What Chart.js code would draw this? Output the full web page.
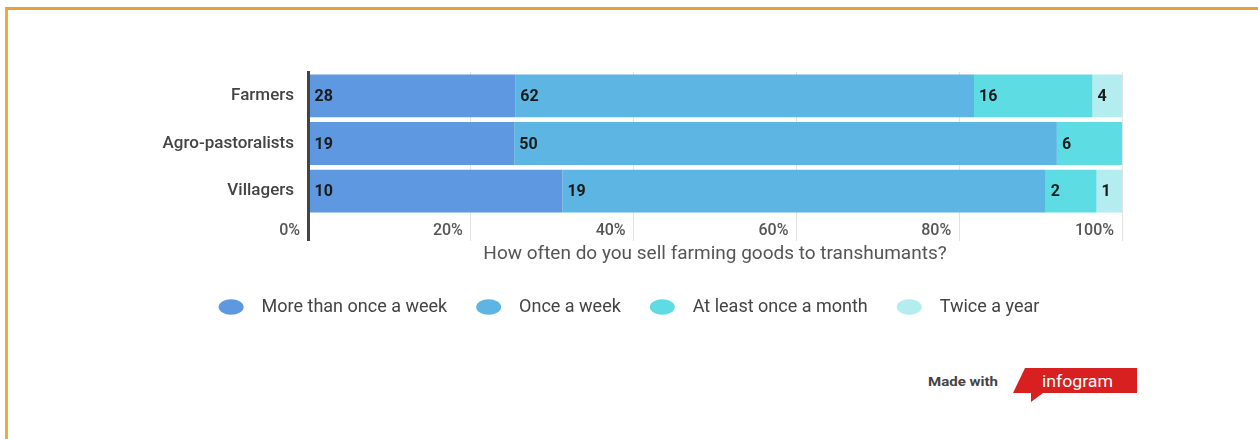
<!DOCTYPE html>
<html>
<head>
<meta charset="utf-8">
<script src="https://cdn.jsdelivr.net/npm/chart.js@4.4.1/dist/chart.umd.min.js"></script>
<style>
  html, body { margin: 0; padding: 0; background: #fff; }
  body { width: 1258px; height: 439px; position: relative; overflow: hidden; font-family: Roboto, sans-serif; }
  .frame { position: absolute; left: 5px; top: 7px; width: 1300px; height: 500px; border-top: 3px solid #E9A23B; border-left: 3px solid #EFAA3C; }
  .chart-box { position: absolute; left: 0; top: 0; width: 1258px; height: 326px; }
  .badge { position: absolute; left: 920px; top: 360px; }
</style>
</head>
<body>
<div class="frame"></div>
<div class="chart-box"><canvas id="chart"></canvas></div>
<svg class="badge" width="225" height="50">
  <text x="8" y="26" font-family="Roboto" font-weight="bold" font-size="13" fill="#444" textLength="70" lengthAdjust="spacingAndGlyphs">Made with</text>
  <polygon points="105,8 217,8 217,33 123,33 111,42 111,33 93,33" fill="#D7201F"/>
  <text x="122" y="27" font-family="Roboto" font-size="16" fill="#fff" textLength="71" lengthAdjust="spacingAndGlyphs">infogram</text>
</svg>
<script>
// answers per group (counts), shown as share of 100%
const categories = ['Farmers', 'Agro-pastoralists', 'Villagers'];
const seriesNames = ['More than once a week', 'Once a week', 'At least once a month', 'Twice a year'];
const moreThanWeekly = [28, 19, 10];
const weekly = [62, 50, 19];
const monthly = [16, 6, 2];
const twiceYearly = [4, 0, 1];
const percentTicks = [0, 20, 40, 60, 80, 100];
const seriesColors = ['#5E98E0', '#5DB5E4', '#5DDDE3', '#B3EDF0'];

const counts = [moreThanWeekly, weekly, monthly, twiceYearly];
const totals = categories.map((c, i) => counts.reduce((s, arr) => s + arr[i], 0));

const datasets = counts.map((arr, k) => ({
    label: seriesNames[k],
    counts: arr,
    data: arr.map((v, i) => v / totals[i] * 100),
    backgroundColor: seriesColors[k],
    borderWidth: 0,
    barPercentage: 0.9,
    categoryPercentage: 1
}));

// count labels at the left of each segment
const valueLabels = {
    id: 'valueLabels',
    afterDatasetsDraw(chart) {
        const ctx = chart.ctx;
        ctx.save();
        ctx.font = 'bold 16px Roboto';
        ctx.fillStyle = '#1a1a1a';
        ctx.textAlign = 'left';
        ctx.textBaseline = 'middle';
        chart.data.datasets.forEach((ds, i) => {
            chart.getDatasetMeta(i).data.forEach((bar, j) => {
                const v = ds.counts[j];
                if (!v) return;
                ctx.fillText(String(v), Math.min(bar.x, bar.base) + 5, bar.y + 1);
            });
        });
        ctx.restore();
    }
};

const isZero = c => c.tick && c.tick.value === 0;

new Chart(document.getElementById('chart'), {
    type: 'bar',
    data: { labels: categories, datasets: datasets },
    plugins: [valueLabels],
    options: {
        indexAxis: 'y',
        responsive: true,
        maintainAspectRatio: false,
        animation: false,
        layout: { padding: { top: 72, left: 0, right: 0, bottom: 0 } },
        scales: {
            x: {
                stacked: true,
                min: 0,
                max: 100,
                afterBuildTicks: s => { s.ticks = percentTicks.map(v => ({ value: v })); },
                afterFit: s => { s.height = 54; },
                ticks: {
                    align: 'end',
                    padding: -20,
                    color: '#555',
                    font: { family: 'Roboto', size: 16, weight: '500' },
                    callback: v => v + '%  '
                },
                grid: {
                    color: c => isZero(c) ? '#444' : '#e2e2e2',
                    tickColor: c => isZero(c) ? '#444' : '#e2e2e2',
                    lineWidth: c => isZero(c) ? 3 : 1,
                    tickLength: 26
                },
                border: { display: false },
                title: {
                    display: true,
                    text: 'How often do you sell farming goods to transhumants?',
                    color: '#555',
                    font: { family: 'Roboto', size: 19 },
                    padding: { top: 0, bottom: 3 }
                }
            },
            y: {
                stacked: true,
                afterFit: s => { s.width = 308; },
                ticks: {
                    padding: 14,
                    color: '#444',
                    font: { family: 'Roboto', size: 17, weight: '500' }
                },
                grid: { display: false, drawTicks: false },
                border: { display: true, color: '#444', width: 3, z: 1 }
            },
            yRight: {
                type: 'linear',
                position: 'right',
                afterFit: s => { s.width = 136; },
                ticks: { display: false },
                grid: { display: false, drawTicks: false },
                border: { display: false }
            }
        },
        plugins: {
            tooltip: { enabled: false },
            legend: {
                position: 'bottom',
                labels: {
                    usePointStyle: true,
                    pointStyle: 'circle',
                    pointStyleWidth: 25,
                    boxHeight: 11,
                    padding: 29,
                    color: '#444',
                    font: { family: 'Roboto', size: 18 },
                    generateLabels: chart => Chart.defaults.plugins.legend.labels.generateLabels(chart)
                        .map(l => Object.assign(l, { text: '  ' + l.text }))
                }
            }
        }
    }
});
</script>
</body>
</html>
